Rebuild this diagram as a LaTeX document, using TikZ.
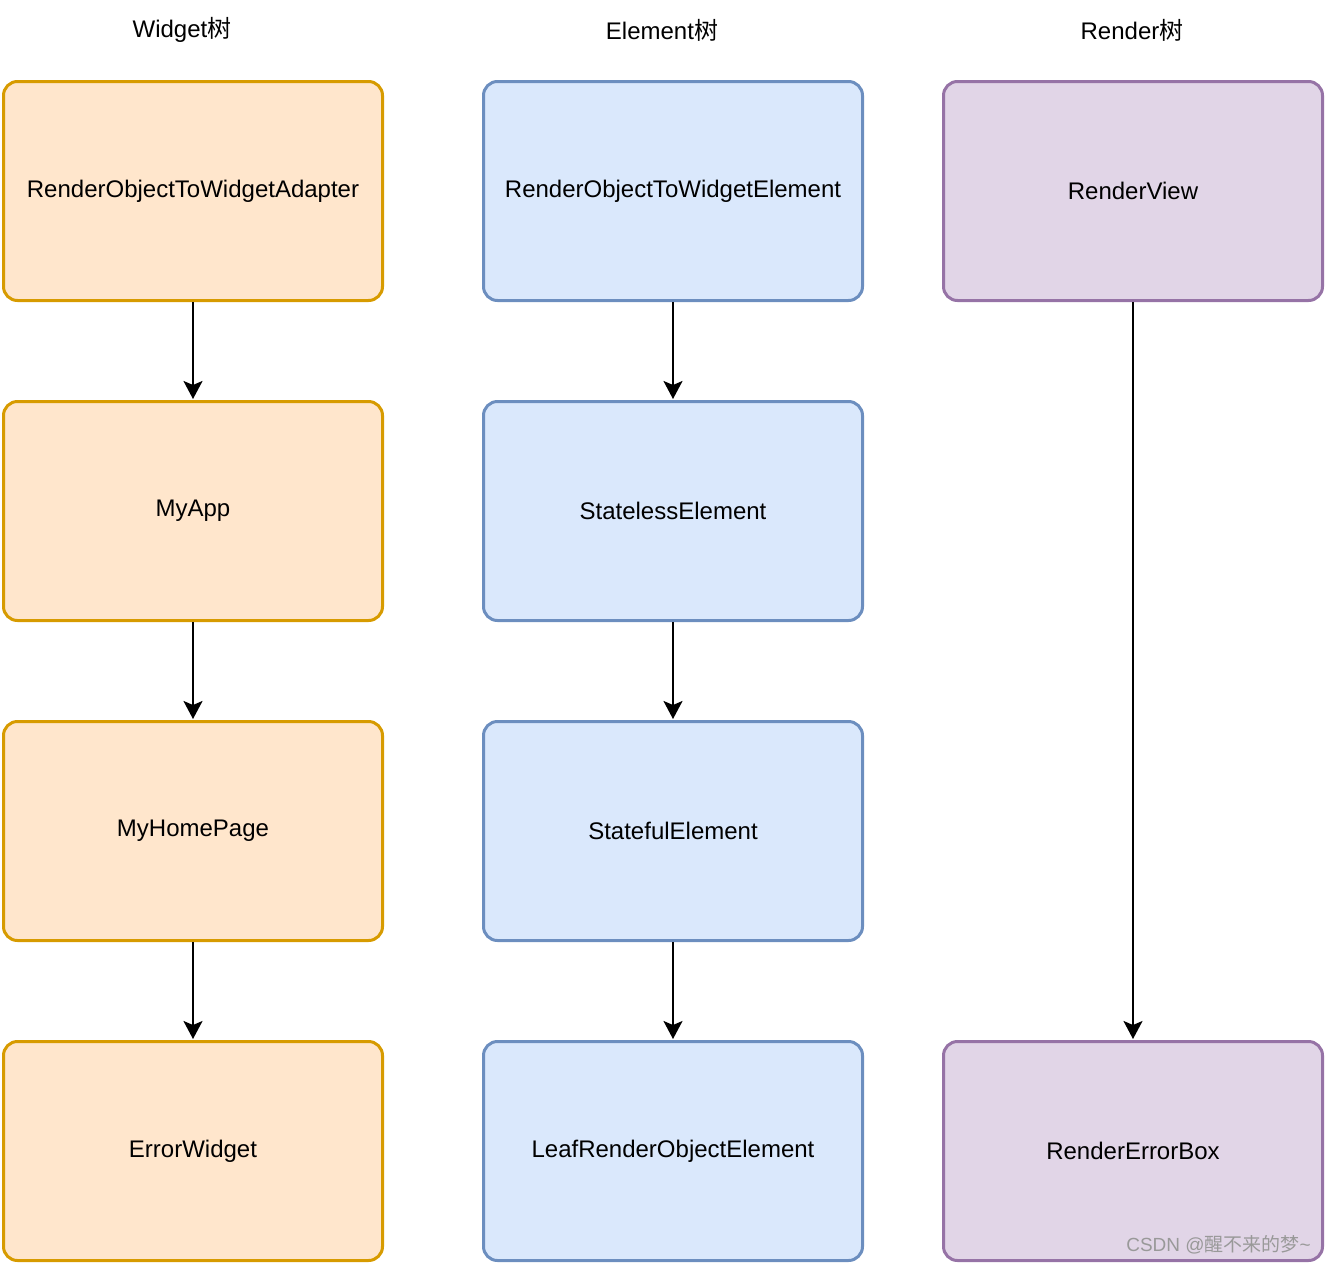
\documentclass[tikz,border=0pt]{standalone}
\usepackage{fontspec}
\setmainfont{Liberation Sans}
\newfontfamily\cjk{Noto Sans CJK SC}
\usetikzlibrary{arrows.meta}
\definecolor{orfill}{HTML}{FFE6CC}
\definecolor{ordraw}{HTML}{D79B00}
\definecolor{blfill}{HTML}{DAE8FC}
\definecolor{bldraw}{HTML}{6C8EBF}
\definecolor{pufill}{HTML}{E1D5E7}
\definecolor{pudraw}{HTML}{9673A6}
\tikzset{
  box/.style={rectangle, rounded corners=14pt, line width=3pt, minimum width=379pt, minimum height=219pt, inner sep=0pt, font=\fontsize{24}{27}\selectfont, text=black},
  orbox/.style={box, draw=ordraw, fill=orfill},
  blbox/.style={box, draw=bldraw, fill=blfill},
  pubox/.style={box, draw=pudraw, fill=pufill},
  hdr/.style={font=\fontsize{24}{27}\selectfont, inner sep=0pt},
  arr/.style={-{Stealth[length=18pt,width=19pt,inset=4pt]}, line width=2pt, black, shorten >=1pt}
}
\begin{document}
\begin{tikzpicture}[x=1pt,y=-1pt]
\useasboundingbox (0,0) rectangle (1326,1264);
\node[hdr] (h1) at (182,30) {Widget{\cjk 树}};
\node[hdr] (h2) at (662,30) {Element{\cjk 树}};
\node[hdr] (h3) at (1132,30) {Render{\cjk 树}};

\node[orbox] (w1) at (193,191) {RenderObjectToWidgetAdapter};
\node[orbox] (w2) at (193,511) {MyApp};
\node[orbox] (w3) at (193,831) {MyHomePage};
\node[orbox] (w4) at (193,1151) {ErrorWidget};

\node[blbox] (e1) at (673,191) {RenderObjectToWidgetElement};
\node[blbox] (e2) at (673,511) {StatelessElement};
\node[blbox] (e3) at (673,831) {StatefulElement};
\node[blbox] (e4) at (673,1151) {LeafRenderObjectElement};

\node[pubox] (r1) at (1133,191) {RenderView};
\node[pubox] (r2) at (1133,1151) {RenderErrorBox};

\draw[arr] (w1) -- (w2);
\draw[arr] (w2) -- (w3);
\draw[arr] (w3) -- (w4);
\draw[arr] (e1) -- (e2);
\draw[arr] (e2) -- (e3);
\draw[arr] (e3) -- (e4);
\draw[arr] (r1) -- (r2);

\node[font=\fontsize{19}{21}\selectfont, text=black!40, anchor=east, inner sep=0pt] (wm) at (1311,1245) {CSDN @{\cjk 醒不来的梦}\textasciitilde};
\end{tikzpicture}
\end{document}
